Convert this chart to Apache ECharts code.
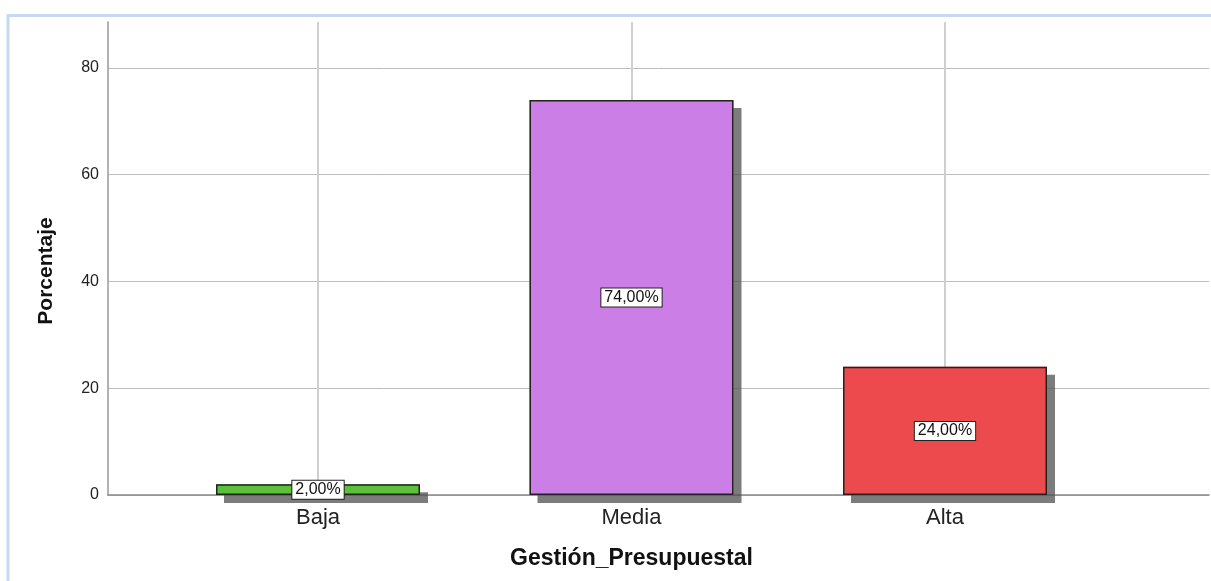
<!DOCTYPE html>
<html><head><meta charset="utf-8">
<script src="https://cdn.jsdelivr.net/npm/echarts@6/dist/echarts.min.js"></script>
<style>html,body{margin:0;padding:0;background:#fff}#c{width:1211px;height:581px}</style>
</head><body><div id="c"></div>
<script>
const categories = ['Baja', 'Media', 'Alta'];
const percentages = [2, 74, 24];
const barColors = ['#5cc13a', '#cb7fe6', '#ec4a4c'];
const yTicks = [0, 20, 40, 60, 80];
const yMax = 88.6;
const xTitle = 'Gestión_Presupuestal';
const yTitle = 'Porcentaje';

const chart = echarts.init(document.getElementById('c'), null, {renderer: 'canvas'});
const fontFam = '"Liberation Sans", Arial, sans-serif';
const gridLineColors = yTicks.map(() => '#bdbdbd').concat(['rgba(0,0,0,0)']);
const option = {
  animation: false,
  backgroundColor: '#fff',
  graphic: [
    {type: 'polyline', shape: {points: [[8, 581], [8, 15.5], [1211, 15.5]]},
     style: {stroke: '#c6d9f0', lineWidth: 3, fill: null}, silent: true},
    {type: 'text', x: 46, y: 271, rotation: Math.PI / 2,
     style: {text: yTitle, font: 'bold 21px ' + fontFam, fill: '#111', textAlign: 'center', textVerticalAlign: 'middle'}}
  ],
  grid: [
    {left: 161.25, right: 109.25, top: 22, bottom: 86},
    {left: 108, right: 2, top: 22, bottom: 86}
  ],
  xAxis: [
    {type: 'category', gridIndex: 0, data: categories,
     axisLine: {show: false}, axisTick: {show: false}, splitLine: {show: false},
     axisLabel: {fontSize: 22, color: '#222', fontFamily: fontFam, margin: 12},
     name: xTitle, nameLocation: 'middle', nameGap: 52,
     nameTextStyle: {fontSize: 23, fontWeight: 'bold', color: '#111', fontFamily: fontFam}},
    {type: 'value', gridIndex: 1, min: 0, max: 1,
     axisLine: {show: true, onZero: false, lineStyle: {color: '#8a8a8a', width: 1.5}},
     axisTick: {show: false}, axisLabel: {show: false}, splitLine: {show: false}}
  ],
  yAxis: [
    {type: 'value', gridIndex: 0, min: 0, max: yMax, show: false, splitLine: {show: false}},
    {type: 'value', gridIndex: 1, min: 0, max: yMax, interval: yTicks[1] - yTicks[0],
     axisLine: {show: true, lineStyle: {color: '#999', width: 1.5}},
     axisTick: {show: false},
     axisLabel: {fontSize: 16, color: '#222', fontFamily: fontFam, margin: 9,
       formatter: v => (yTicks.indexOf(v) >= 0 ? String(v) : '')},
     splitLine: {show: true, lineStyle: {color: gridLineColors, width: 1}}}
  ],
  series: [
    {
      type: 'bar', xAxisIndex: 0, yAxisIndex: 0, z: 3,
      barWidth: 204, barGap: '-100%',
      data: percentages.map((v, i) => ({value: v, itemStyle: {color: barColors[i]}})),
      itemStyle: {borderWidth: 0,
        shadowColor: 'rgba(80,80,80,0.75)', shadowBlur: 0, shadowOffsetX: 8, shadowOffsetY: 8},
      markLine: {silent: true, z: 1, symbol: ['none', 'none'], label: {show: false},
        lineStyle: {color: '#cfcfcf', width: 2, type: 'solid'},
        data: categories.map(c => ({xAxis: c}))}
    },
    {
      type: 'bar', xAxisIndex: 0, yAxisIndex: 0, z: 4,
      barWidth: 204, barGap: '-100%',
      data: percentages,
      itemStyle: {color: 'rgba(0,0,0,0)', borderColor: '#222', borderWidth: 1.5},
      label: {show: true, position: 'inside', color: '#111', fontSize: 16, fontFamily: fontFam,
        backgroundColor: '#fff', borderColor: '#222', borderWidth: 1, padding: [1, 3, 0, 3], lineHeight: 17,
        formatter: p => p.value.toFixed(2).replace('.', ',') + '%'}
    }
  ]
};
chart.setOption(option);
</script></body></html>
